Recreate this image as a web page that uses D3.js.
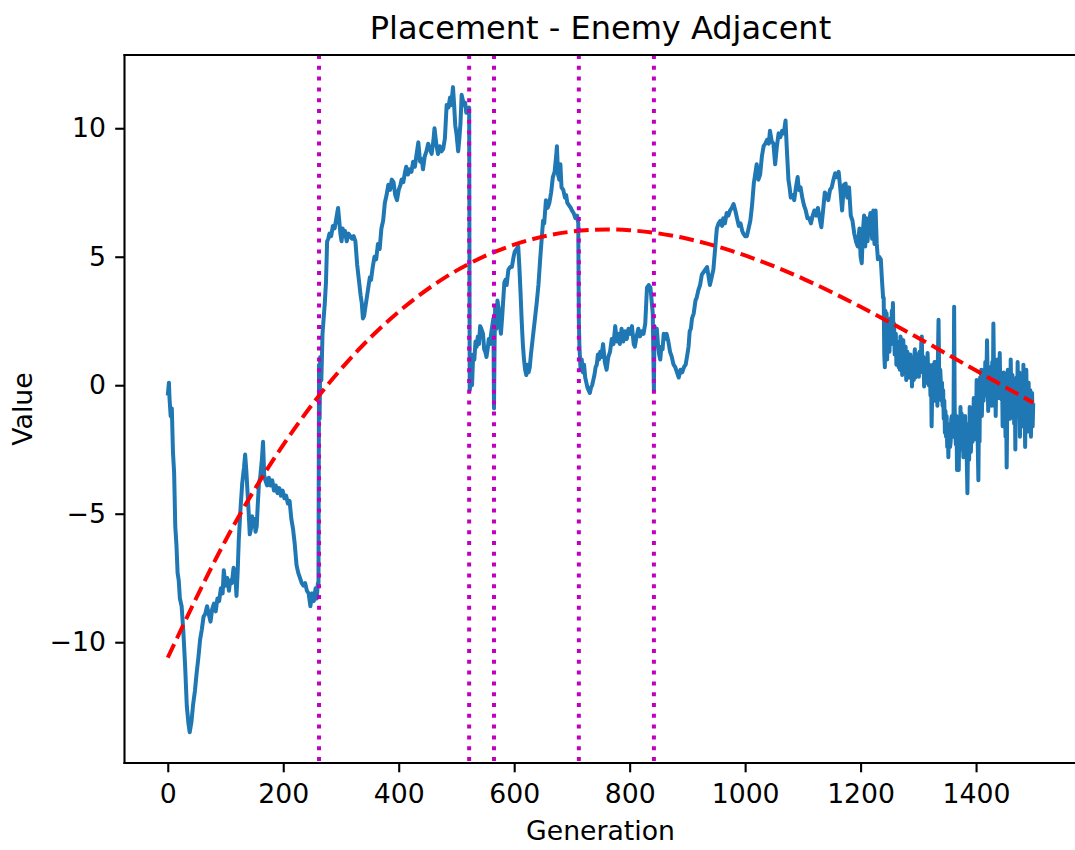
<!DOCTYPE html>
<html>
<head>
<meta charset="utf-8">
<script src="https://cdn.jsdelivr.net/npm/d3@7"></script>
<style>
  body { margin: 0; background: #fff; }
  svg { display: block; font-family: "DejaVu Sans", sans-serif; }
</style>
</head>
<body>
<svg id="chart"></svg>
<script>
// Data
const gens = [
    0, 2, 3, 5, 7, 9, 11, 13, 15, 17, 19, 21, 24, 27, 30, 33, 36, 38, 41, 44, 47, 50, 53, 56, 59, 62, 65, 68, 71, 74, 77, 80, 83, 86, 89, 92, 95, 97,
    100, 103, 106, 108, 111, 114, 117, 119, 121, 123, 126, 129, 132, 134, 136, 138, 140, 142, 144, 146, 148, 150, 152, 154, 156, 158, 160, 163, 165, 167, 169, 172, 175, 178, 181, 184, 187, 190, 193, 196, 199,
    202, 205, 208, 211, 214, 217, 220, 223, 226, 229, 232, 235, 238, 241, 244, 247, 250, 253, 256, 258, 260, 261, 262, 263, 264, 266, 268, 270, 272, 274, 276, 278, 280, 283, 286, 289, 292, 295, 297, 299,
    301, 303, 305, 307, 310, 313, 316, 319, 322, 325, 328, 331, 334, 336, 338, 340, 342, 344, 346, 348, 350, 352, 355, 358, 361, 364, 367, 370, 373, 376, 379, 382, 385, 388, 391, 394, 397,
    400, 403, 405, 408, 411, 413, 416, 419, 422, 425, 428, 431, 434, 437, 440, 442, 445, 448, 451, 454, 457, 460, 462, 465, 468, 471, 474, 477, 480, 483, 486, 489, 491, 494, 496, 498,
    500, 503, 505, 507, 509, 511, 513, 515, 517, 520, 522, 523, 525, 527, 529, 531, 533, 535, 537, 539, 541, 543, 546, 548, 550, 552, 554, 556, 558, 560, 562, 564, 565, 566, 567, 569, 571, 573, 575, 577, 579, 581, 583, 585, 587, 590, 593, 596, 599,
    601, 604, 607, 609, 611, 613, 615, 617, 619, 621, 623, 625, 627, 629, 631, 633, 636, 639, 642, 645, 648, 650, 652, 655, 658, 661, 664, 667, 670, 673, 674, 676, 678, 680, 682, 685, 688, 690, 692, 695, 698,
    700, 703, 706, 709, 711, 712, 713, 715, 717, 719, 721, 723, 725, 727, 729, 731, 733, 735, 737, 739, 741, 743, 745, 747, 749, 751, 754, 757, 760, 763, 766, 769, 772, 775, 778, 781, 783, 786, 789, 792, 795, 798,
    801, 804, 807, 809, 812, 815, 818, 821, 824, 827, 830, 833, 836, 838, 840, 842, 843, 845, 847, 849, 851, 853, 855, 857, 859, 861, 864, 867, 870, 873, 876, 879, 882, 885, 888, 891, 894, 897,
    900, 902, 904, 906, 908, 911, 914, 916, 919, 922, 925, 928, 931, 934, 937, 939, 942, 945, 948, 951, 954, 957, 960, 962, 965, 968, 971, 974, 977, 980, 983, 986, 989, 992, 995, 997,
    1000, 1003, 1006, 1009, 1012, 1015, 1018, 1020, 1023, 1026, 1029, 1032, 1035, 1038, 1041, 1043, 1046, 1049, 1052, 1055, 1058, 1061, 1064, 1067, 1070, 1072, 1075, 1077, 1079, 1082, 1085, 1088, 1091, 1093, 1096, 1099,
    1102, 1105, 1108, 1111, 1114, 1117, 1120, 1123, 1126, 1129, 1132, 1135, 1138, 1141, 1144, 1147, 1150, 1153, 1156, 1159, 1162, 1165, 1168, 1171, 1174, 1177, 1180, 1183, 1186, 1189, 1192, 1195, 1198,
    1200, 1202, 1204, 1206, 1208, 1210, 1212, 1214, 1217, 1220, 1222, 1224, 1226, 1228, 1230, 1232, 1235, 1237, 1239
];

const values = [
    -0.4, 0.1, -0.5, -1.2, -0.9, -2.6, -3.4, -5.5, -6.2, -7.3, -7.6, -8.3, -8.6, -9.6, -10.9, -12.5, -13.2, -13.5, -13.1, -12.4, -11.9, -11.2, -10.6, -9.9, -9.5, -9.0, -8.9, -8.6, -8.9, -9.2, -8.7, -8.5, -8.8, -8.3, -8.4, -7.9, -8.1, -7.2,
    -7.8, -7.5, -8.0, -7.6, -7.7, -7.1, -7.4, -8.2, -7.3, -6.0, -4.8, -3.8, -3.2, -2.7, -3.3, -4.1, -4.9, -5.8, -5.6, -5.1, -5.4, -5.2, -5.7, -5.5, -4.6, -3.8, -3.6, -2.9, -2.2, -3.5, -3.7, -3.9, -3.6, -3.9, -3.7, -4.1, -3.9, -4.2, -4.0, -4.3, -4.1,
    -4.4, -4.3, -4.6, -4.5, -5.2, -5.6, -6.2, -7.0, -7.3, -7.5, -7.7, -7.8, -7.7, -8.0, -8.1, -8.6, -8.1, -8.4, -7.9, -8.3, -7.7, -7.8, 0.8, -1.3, 1.1, 0.2, 2.0, 2.6, 3.2, 4.0, 5.6, 5.7, 5.9, 5.8, 6.2, 6.1, 6.5, 6.9, 6.4, 5.9,
    5.6, 6.1, 5.8, 6.0, 5.6, 5.9, 5.8, 5.7, 5.8, 5.6, 4.7, 4.1, 3.5, 3.2, 2.6, 2.7, 3.0, 3.3, 3.6, 3.9, 4.2, 4.1, 4.6, 5.0, 4.9, 5.5, 5.3, 6.1, 6.4, 7.1, 7.4, 7.8, 7.6, 8.0, 7.9, 7.4, 7.2,
    7.6, 7.8, 8.0, 7.9, 8.3, 8.5, 8.2, 8.4, 8.3, 8.7, 8.5, 9.0, 9.45, 8.7, 8.8, 8.4, 8.9, 9.1, 9.4, 9.2, 9.0, 9.5, 10.0, 9.4, 9.0, 9.3, 9.1, 9.2, 9.6, 10.9, 10.8, 11.2, 10.9, 11.6, 10.9, 10.1,
    9.8, 9.1, 9.6, 10.2, 11.3, 11.1, 10.9, 11.0, 10.6, 10.7, 10.8, -0.2, 0.3, 0.0, 1.2, 1.0, 1.7, 1.5, 1.9, 1.6, 2.3, 2.2, 2.0, 1.4, 1.3, 1.1, 1.4, 1.8, 1.6, 2.0, 2.3, 2.6, -0.9, 1.5, 3.0, 2.2, 3.3, 3.0, 2.4, 2.0, 2.6, 3.3, 4.0, 4.1, 3.9, 4.5, 4.6, 4.6, 5.0,
    5.2, 5.3, 5.4, 4.6, 3.6, 2.5, 1.6, 1.0, 0.6, 0.4, 0.8, 0.5, 0.7, 1.2, 1.6, 2.0, 2.6, 3.2, 3.9, 4.9, 5.8, 6.4, 6.3, 7.2, 6.9, 7.1, 7.5, 8.1, 8.3, 9.0, 9.3, 8.2, 8.0, 8.6, 7.7, 7.6, 7.3, 7.4, 7.1, 7.0, 6.9,
    6.8, 6.7, 6.5, 6.6, 6.3, 2.5, 1.5, 0.6, 1.0, 0.5, 0.8, 0.3, 0.1, -0.1, -0.2, -0.3, -0.1, 0.0, 0.2, 0.4, 0.7, 0.8, 1.2, 1.0, 1.3, 1.1, 1.6, 0.9, 0.6, 1.1, 1.3, 1.8, 1.6, 2.3, 1.7, 2.0, 1.6, 2.2, 1.7, 2.1, 1.8, 2.2,
    2.0, 2.3, 1.6, 1.5, 1.9, 2.2, 1.9, 2.1, 2.0, 2.4, 3.8, 3.9, 3.8, 3.3, 2.8, -0.2, 2.3, 1.7, 2.2, 1.6, 1.2, 1.0, 1.5, 1.4, 2.0, 1.8, 2.0, 1.7, 1.3, 1.1, 0.8, 0.7, 0.5, 0.3, 0.6, 0.5, 0.7, 0.8,
    1.2, 1.5, 2.1, 2.2, 2.6, 2.8, 3.3, 3.4, 3.7, 3.9, 4.3, 4.4, 4.5, 4.6, 4.2, 3.9, 4.2, 4.5, 5.3, 6.1, 6.3, 6.4, 6.2, 6.5, 6.3, 6.7, 6.6, 6.8, 6.9, 7.05, 6.8, 6.5, 6.2, 6.3, 6.0, 5.9,
    5.8, 5.8, 6.1, 6.4, 7.0, 7.85, 8.3, 8.6, 8.0, 8.2, 8.9, 9.3, 9.4, 9.55, 9.4, 9.9, 9.5, 9.4, 8.6, 9.3, 9.8, 9.65, 9.9, 9.8, 10.3, 9.3, 8.0, 7.7, 7.3, 7.4, 7.2, 7.7, 8.1, 7.6, 7.7, 7.3,
    7.0, 6.8, 6.5, 6.5, 6.3, 6.6, 6.8, 6.6, 6.9, 6.5, 6.15, 6.8, 7.5, 7.4, 7.2, 7.6, 7.7, 8.0, 8.25, 8.1, 8.3, 7.6, 6.8, 7.8, 7.85, 7.3, 7.7, 6.6, 6.4, 5.9, 5.6, 5.4, 6.1,
    5.0, 4.75, 6.0, 6.6, 5.4, 6.5, 5.6, 6.2, 6.7, 5.7, 6.8, 5.5, 6.8, 5.5, 4.9, 5.0, 4.9, 4.1, 3.4
];

// noisy tail, one value per generation from 1240 to 1499
const tailStart = 1240;
const tailValues = [
    3.4, 1.2, 0.7, 2.9, 1.6, 2.8, 1.0, 2.4, 1.5, 2.2,
    1.3, 2.6, 1.8, 1.6, 2.9, 2.2, 3.2, 1.7, 2.4, 1.2,
    1.5, 2.0, 0.8, 1.7, 1.0, 1.6, 0.7, 1.5, 0.6, 1.9,
    1.2, 1.8, 0.4, 1.0, 1.75, 0.6, 1.4, 0.8, 1.5, 0.2,
    0.6, 1.3, 0.5, 1.1, 0.3, 0.9, 1.2, 0.3, 0.8, -0.05,
    1.0, 0.4, 0.2, 1.1, 1.4, 0.3, 0.9, 0.4, 1.2, 0.5,
    1.0, 0.33, 1.3, 0.6, 0.5, 1.6, 1.9, 0.7, 0.6, 1.1,
    -0.05, 0.9, 0.4, 0.1, 1.0, 0.2, 1.25, 0.6, 0.0, 0.8,
    0.5, -0.4, 0.6, -1.6, -0.3, 0.8, 0.1, -0.6, 0.9, -0.2,
    0.9, -0.3, 0.4, -0.8, 1.2, 2.55, 0.6, -0.5, 0.6, 0.1,
    -0.6, 0.1, -0.8, -0.2, -1.3, -0.6, -1.85, -1.0, -2.0, -1.2,
    -2.4, -1.5, -2.8, -1.8, -1.6, -2.4, -2.2, -1.3, -1.2, -2.0,
    -1.9, -1.0, 3.05, -0.9, -1.8, -2.3, -1.2, -3.3, -2.0, -1.5,
    -3.3, -1.5, -2.4, -0.85, -2.0, -1.1, -2.5, -1.4, -2.8, -1.9,
    -2.5, -1.2, -2.8, -1.9, -3.0, -4.2, -2.4, -1.5, -2.9, -0.85,
    -1.4, -2.6, -1.85, -0.9, -2.2, -1.5, -0.5, -1.8, -1.0, -2.1,
    -1.5, 0.2, -1.0, -2.4, -3.7, -1.2, -2.2, 0.3, -0.6, 0.6,
    -1.2, -0.2, 0.3, -0.6, 0.6, -0.2, 0.9, -0.4, 0.5, 1.75,
    0.4, -1.0, 0.2, -0.3, 0.7, -0.6, 0.3, -0.8, 0.9, -0.6,
    2.4, 0.6, -0.8, 0.5, -1.2, 0.4, -0.5, 1.0, -0.2, 0.4,
    -0.5, 1.25, -0.2, 0.5, -0.55, 0.3, -1.6, 0.0, 0.5, -0.8,
    -0.2, -2.0, -0.5, -3.2, -1.0, 0.6, -0.4, -1.0, 0.2, -1.3,
    1.0, -0.3, -0.8, 0.4, -1.2, -0.3, -1.5, 0.2, -2.5, -0.6,
    0.3, -1.1, 0.9, -0.5, -1.2, 0.5, -2.0, -0.4, 0.4, -1.6,
    -0.3, -1.0, 0.8, -1.3, -0.2, -2.4, -0.7, 0.6, -1.1, -0.4,
    -1.8, 0.1, -0.9, -1.5, -0.2, -2.0, -0.6, -0.3, -1.6, -0.7
];

// dashed red trend, read every 100 generations
const trendGens = [0, 100, 200, 300, 400, 500, 600, 700, 800, 900, 1000, 1100, 1200, 1300, 1400, 1499];
const trendValues = [-10.6, -6.04, -2.32, 0.63, 2.86, 4.46, 5.47, 5.98, 6.03, 5.7, 5.05, 4.15, 3.05, 1.84, 0.57, -0.68];

// dotted magenta markers
const markerGens = [262, 522, 565, 712, 842];

const xTicks = [0, 200, 400, 600, 800, 1000, 1200, 1400];
const yTicks = [-10, -5, 0, 5, 10];

const width = 1075;
const height = 850;
const plot = { left: 124.5, right: 1076.5, top: 55, bottom: 763 };

const svg = d3.select("#chart")
    .attr("width", width)
    .attr("height", height);

svg.append("rect")
    .attr("width", width)
    .attr("height", height)
    .attr("fill", "white");

const x = d3.scaleLinear()
    .domain([-74.95, 1573.95])
    .range([plot.left, plot.right]);

const y = d3.scaleLinear()
    .domain([-14.7, 12.85])
    .range([plot.bottom, plot.top]);

svg.append("clipPath")
    .attr("id", "clip")
    .append("rect")
    .attr("x", plot.left)
    .attr("y", plot.top)
    .attr("width", plot.right - plot.left)
    .attr("height", plot.bottom - plot.top);

const g = svg.append("g").attr("clip-path", "url(#clip)");

// Series
const series = gens.map((d, i) => [d, values[i]])
    .concat(tailValues.map((v, i) => [tailStart + i, v]));

g.append("path")
    .datum(series)
    .attr("fill", "none")
    .attr("stroke", "#1f77b4")
    .attr("stroke-width", 4)
    .attr("stroke-linejoin", "round")
    .attr("d", d3.line().x(d => x(d[0])).y(d => y(d[1])));

// Trend
const trend = trendGens.map((d, i) => [d, trendValues[i]]);
g.append("path")
    .datum(trend)
    .attr("fill", "none")
    .attr("stroke", "red")
    .attr("stroke-width", 4)
    .attr("stroke-dasharray", "14.8,6.4")
    .attr("d", d3.line().curve(d3.curveNatural).x(d => x(d[0])).y(d => y(d[1])));

// Markers
g.selectAll("line.marker")
    .data(markerGens)
    .join("line")
    .attr("class", "marker")
    .attr("x1", d => x(d))
    .attr("x2", d => x(d))
    .attr("y1", plot.top)
    .attr("y2", plot.bottom)
    .attr("stroke", "#bf00bf")
    .attr("stroke-width", 4)
    .attr("stroke-dasharray", "4,6.8");

// Axes
const xAxis = svg.append("g")
    .attr("transform", `translate(0,${plot.bottom})`)
    .call(d3.axisBottom(x).tickValues(xTicks).tickFormat(d3.format("d")).tickSize(9.3).tickPadding(9.3));

const yAxis = svg.append("g")
    .attr("transform", `translate(${plot.left},0)`)
    .call(d3.axisLeft(y).tickValues(yTicks).tickFormat(d3.format("d")).tickSize(9.3).tickPadding(9.3));

[xAxis, yAxis].forEach(a => {
    a.select(".domain").remove();
    a.selectAll("line").attr("stroke", "black").attr("stroke-width", 2.1);
    a.selectAll("text")
        .attr("fill", "black")
        .style("font-family", "DejaVu Sans")
        .style("font-size", "26.7px");
});
xAxis.selectAll("text").attr("dy", "0.8em");

// Spines (right one falls outside the picture)
const spines = [
    [plot.left, plot.top, plot.left, plot.bottom],
    [plot.left, plot.top, width, plot.top],
    [plot.left, plot.bottom, width, plot.bottom]
];
svg.selectAll("line.spine")
    .data(spines)
    .join("line")
    .attr("class", "spine")
    .attr("x1", d => d[0])
    .attr("y1", d => d[1])
    .attr("x2", d => d[2])
    .attr("y2", d => d[3])
    .attr("stroke", "black")
    .attr("stroke-width", 2.1)
    .attr("stroke-linecap", "square");

// Labels
svg.append("text")
    .attr("x", (plot.left + plot.right) / 2)
    .attr("y", 39)
    .attr("text-anchor", "middle")
    .style("font-size", "32px")
    .text("Placement - Enemy Adjacent");

svg.append("text")
    .attr("x", (plot.left + plot.right) / 2)
    .attr("y", 840)
    .attr("text-anchor", "middle")
    .style("font-size", "26.7px")
    .text("Generation");

svg.append("text")
    .attr("transform", `translate(32,${(plot.top + plot.bottom) / 2}) rotate(-90)`)
    .attr("text-anchor", "middle")
    .style("font-size", "26.7px")
    .text("Value");
</script>
</body>
</html>
